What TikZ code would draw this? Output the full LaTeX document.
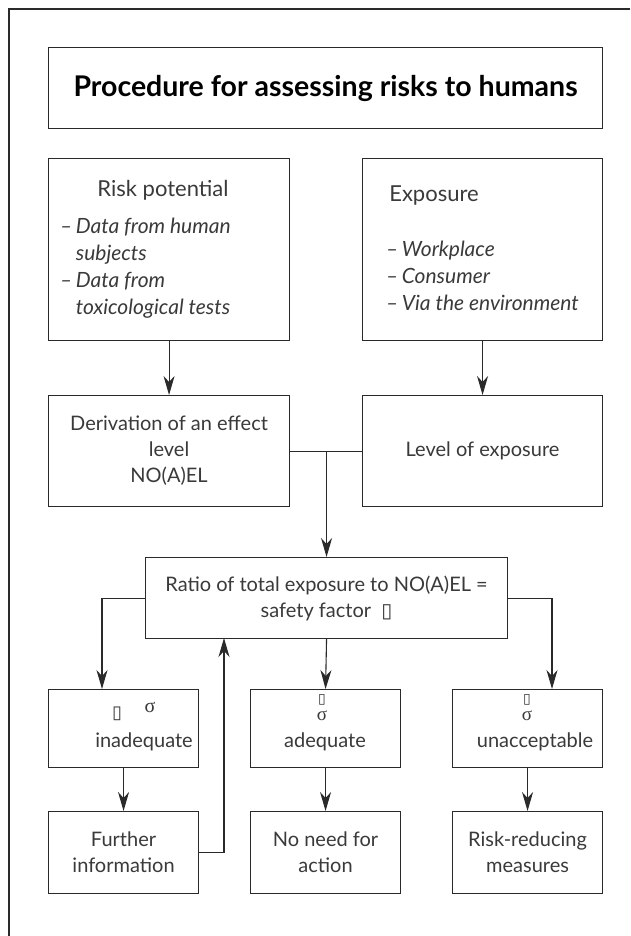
\documentclass[tikz,border=0pt]{standalone}
\usepackage{fontspec}
\setmainfont{Lato}
\newfontfamily\symfont{DejaVu Sans}
\newfontfamily\grkfont{Liberation Serif}
\usetikzlibrary{arrows.meta}
\definecolor{linec}{HTML}{2A2A2A}
\definecolor{textc}{HTML}{3A3A3A}
\begin{document}
\begin{tikzpicture}[x=1pt,y=-1pt,
  frame/.style={draw=linec,line width=1.1pt},
  box/.style={draw=linec,line width=1.1pt,inner sep=0pt,anchor=north west,align=center,
     text=textc,font=\fontsize{20}{26}\selectfont},
  conn/.style={draw=linec,line width=1.1pt},
  arr/.style={conn,-{Stealth[length=19pt,width=11pt,inset=6pt]}},
  lbl/.style={text=textc,inner sep=0pt,font=\fontsize{20}{26}\selectfont},
  glyphbox/.style={text=textc,inner sep=0pt,font=\symfont\fontsize{14}{14}\selectfont},
  glyphs/.style={text=textc,inner sep=0pt,font=\grkfont\fontsize{19}{19}\selectfont},
  head/.style={text=textc,inner sep=0pt,font=\fontsize{22}{26}\selectfont},
  item/.style={text=textc,inner sep=0pt,anchor=north west,align=left,
     font=\fontsize{21}{27}\selectfont\itshape}]
\useasboundingbox (0,0) rectangle (630,936);
\fill[white] (0,0) rectangle (630,936);
% outer frame (top and left only)
\draw[frame] (630,9) -- (9,9) -- (9,936);
% title
\node[box,minimum width=554pt,minimum height=81pt,text=black,
  font=\fontsize{28.5}{32}\selectfont\bfseries] (title) at (48,47)
  {Procedure for assessing risks to humans};
% risk potential & exposure
\node[box,minimum width=241pt,minimum height=182pt] (risk) at (48,158) {};
\node[box,minimum width=240pt,minimum height=182pt] (expo) at (362,158) {};
\node[head] (riskh) at (163,190) {Risk potential};
\node[head] (expoh) at (434,196) {Exposure};
\node[item] (riskl) at (60,218) {–\,Data from human\\\hphantom{–\,}subjects\\–\,Data from\\\hphantom{–\,}toxicological tests};
\node[item] (expol) at (386,241) {–\,Workplace\\–\,Consumer\\–\,Via the environment};
% derivation & level
\node[box,minimum width=241pt,minimum height=111pt] (deriv) at (48,395)
  {Derivation of an effect\\level\\NO(A)EL};
\node[box,minimum width=240pt,minimum height=111pt] (level) at (362,395)
  {Level of exposure};
% ratio
\node[box,minimum width=362pt,minimum height=81pt] (ratio) at (145,557)
  {Ratio of total exposure to NO(A)EL =\\safety factor \ {\symfont ▯}};
% middle row
\node[box,minimum width=150pt,minimum height=78pt] (inad) at (48,689) {};
\node[box,minimum width=150pt,minimum height=78pt] (adeq) at (250,689) {};
\node[box,minimum width=150pt,minimum height=78pt] (unacc) at (452,689) {};
\node[lbl] (inads) at (150,707) {\grkfont σ};
\node[lbl] (inadb) at (117,714) {\symfont\fontsize{18}{18}\selectfont ▯};
\node[lbl] (inadt) at (144,742) {inadequate};
\node[glyphbox] (adegb) at (322,700) {▯};
\node[glyphs] (adegs) at (322,716) {σ};
\node[lbl] (adeqt) at (325,742) {adequate};
\node[glyphbox] (ungb) at (527,700) {▯};
\node[glyphs] (ungs) at (527,716) {σ};
\node[lbl] (unact) at (535,742) {unacceptable};
% bottom row
\node[box,minimum width=150pt,minimum height=82pt] (further) at (48,811) {Further\\information};
\node[box,minimum width=150pt,minimum height=82pt] (noneed) at (250,811) {No need for\\action};
\node[box,minimum width=150pt,minimum height=82pt] (reduce) at (452,811) {Risk-reducing\\measures};
% connectors
\draw[arr] (risk.south) -- (deriv.north);
\draw[arr] (expo.south) -- (level.north);
\draw[conn] (deriv.east) -- (level.west);
\coordinate (join) at (ratio.north |- deriv.east);
\draw[arr] (join) -- (ratio.north);
\coordinate (inadtop) at (102,689);
\coordinate (unacctop) at (552,689);
\draw[arr] (ratio.west) -| (inadtop);
\draw[arr] (ratio.east) -| (unacctop);
\draw[arr] (ratio.south) -- (adeq.north);
\draw[arr] (inad.south) -- (further.north);
\draw[arr] (adeq.south) -- (noneed.north);
\draw[arr] (unacc.south) -- (reduce.north);
\coordinate (back) at (224,638);
\draw[arr] (further.east) -| (back);
\end{tikzpicture}
\end{document}
